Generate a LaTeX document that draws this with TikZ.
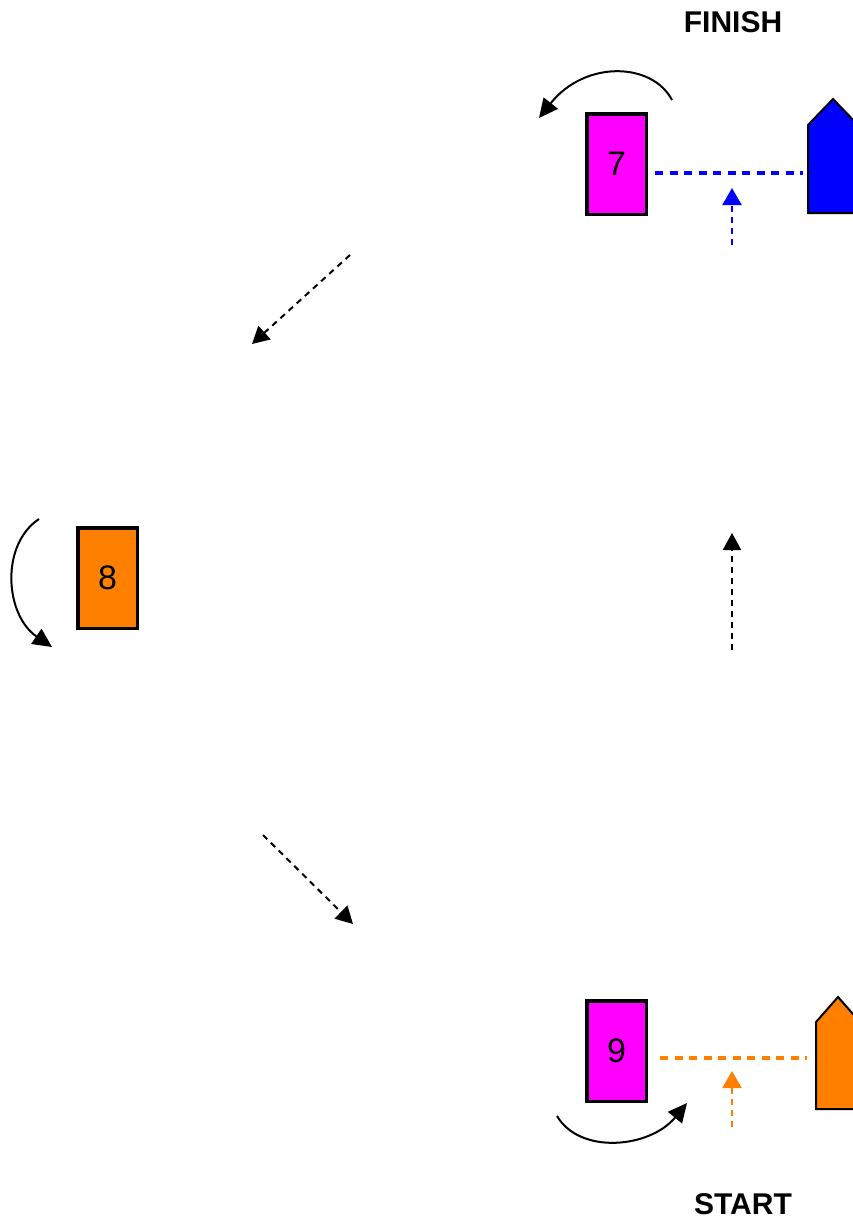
\documentclass[tikz,border=0pt]{standalone}
\usepackage{fontspec}
\setmainfont{Liberation Sans}
\usetikzlibrary{arrows.meta}
\definecolor{markmagenta}{RGB}{255,0,255}
\definecolor{markorange}{RGB}{255,128,0}
\definecolor{markblue}{RGB}{0,0,255}

\begin{document}
\begin{tikzpicture}[x=1pt,y=-1pt,
  marker/.style={draw=black,line width=3.5pt,minimum width=59.5pt,minimum height=100.5pt,
    inner sep=0pt,font=\fontsize{34}{36}\selectfont},
  sign/.style={font=\fontsize{30}{34}\selectfont\bfseries},
  flag/.style={draw=black,line width=2pt,line join=miter},
  turn/.style={line width=2pt,-{Triangle[length=19pt,width=18pt]}},
  path/.style={line width=2pt,dash pattern=on 6pt off 5pt,-{Triangle[length=17pt,width=18pt]}},
  gate/.style={line width=3.5pt,dash pattern=on 8pt off 6.5pt},
  aim/.style={line width=2.2pt,dash pattern=on 6pt off 5pt,-{Triangle[length=17pt,width=19pt]}}]
\useasboundingbox (0,0) rectangle (853,1223);

\node[sign] (finish) at (733,22) {FINISH};
\node[sign] (start) at (743,1204) {START};

\node[marker,fill=markmagenta] (box7) at (616.5,164) {7};
\node[marker,fill=markorange] (box8) at (107.5,578) {8};
\node[marker,fill=markmagenta] (box9) at (616.5,1051) {9};

\draw[flag,fill=markblue] (808,213) -- (808,125) -- (833,99) -- (858,125) -- (858,213) -- cycle;
\draw[flag,fill=markorange] (816,1109) -- (816,1022) -- (838,997) -- (860,1022) -- (860,1109) -- cycle;
\coordinate (finishpost) at (808,173);
\coordinate (startpost) at (816,1058);

\draw[gate,markblue,shorten <=7pt,shorten >=5pt] (box7.east |- finishpost) -- (finishpost);
\draw[gate,markorange,shorten <=12pt,shorten >=9pt] (box9.east |- startpost) -- (startpost);

\coordinate (finishfoot) at (732,245);
\coordinate (finishtip) at (732,188);
\coordinate (startfoot) at (732,1127);
\coordinate (starttip) at (732,1071);
\draw[aim,markblue] (finishfoot) -- (finishtip);
\draw[aim,markorange] (startfoot) -- (starttip);

\coordinate (midfoot) at (732,650);
\coordinate (midtip) at (732,533);
\coordinate (upfoot) at (350,255);
\coordinate (uptip) at (252,344);
\coordinate (lowfoot) at (263,835);
\coordinate (lowtip) at (353,924);
\draw[path] (midfoot) -- (midtip);
\draw[path] (upfoot) -- (uptip);
\draw[path] (lowfoot) -- (lowtip);

\coordinate (turn7a) at (672,100);
\coordinate (turn7b) at (539,118);
\coordinate (turn8a) at (39,519);
\coordinate (turn8b) at (52,647);
\coordinate (turn9a) at (557,1116);
\coordinate (turn9b) at (687,1103);
\draw[turn] (turn7a) .. controls (652,62) and (585,60) .. (turn7b);
\draw[turn] (turn8a) .. controls (0,545) and (5,615) .. (turn8b);
\draw[turn] (turn9a) .. controls (580,1155) and (650,1148) .. (turn9b);
\end{tikzpicture}
\end{document}
